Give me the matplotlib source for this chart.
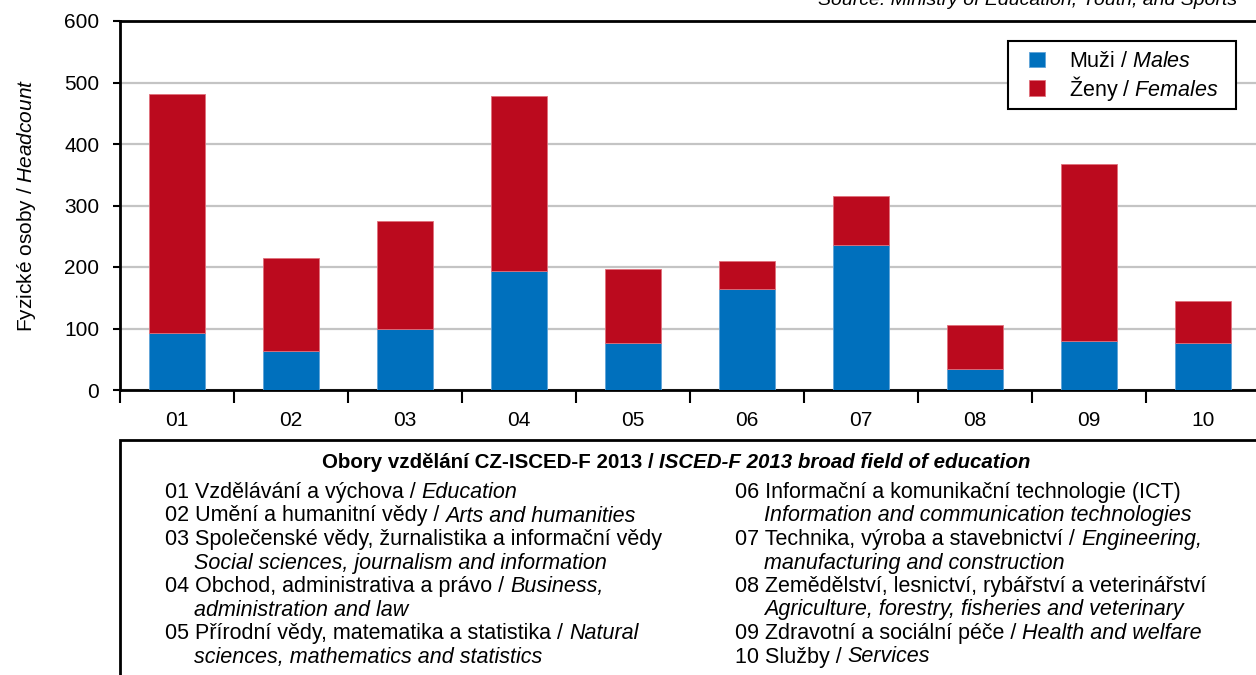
import matplotlib
matplotlib.use("Agg")
import matplotlib.pyplot as plt
from matplotlib.patches import Rectangle
import numpy as np

plt.rcParams['font.family'] = ['Liberation Sans', 'DejaVu Sans']
plt.rcParams['mathtext.fontset'] = 'custom'
plt.rcParams['mathtext.rm'] = 'Liberation Sans'
plt.rcParams['mathtext.it'] = 'Liberation Sans:italic'

# data
codes = ['01', '02', '03', '04', '05', '06', '07', '08', '09', '10']
males = [92, 63, 99, 193, 76, 164, 235, 34, 79, 76]
females = [389, 152, 175, 285, 120, 45, 81, 71, 289, 68]

# field names: (code, Czech part, English part, wrap English to next line)
fields_left = [
    ('01', 'Vzdělávání a výchova / ', 'Education', False),
    ('02', 'Umění a humanitní vědy / ', 'Arts and humanities', False),
    ('03', 'Společenské vědy, žurnalistika a informační vědy', 'Social sciences, journalism and information', True),
    ('04', 'Obchod, administrativa a právo / ', 'Business,|administration and law', True),
    ('05', 'Přírodní vědy, matematika a statistika / ', 'Natural|sciences, mathematics and statistics', True),
]
fields_right = [
    ('06', 'Informační a komunikační technologie (ICT)', 'Information and communication technologies', True),
    ('07', 'Technika, výroba a stavebnictví / ', 'Engineering,|manufacturing and construction', True),
    ('08', 'Zemědělství, lesnictví, rybářství a veterinářství', 'Agriculture, forestry, fisheries and veterinary', True),
    ('09', 'Zdravotní a sociální péče / ', 'Health and welfare', False),
    ('10', 'Služby / ', 'Services', False),
]

BLUE = '#0070BD'
RED = '#BB0A1E'

W, H = 1256, 675
fig = plt.figure(figsize=(W / 100, H / 100), dpi=100)
renderer = fig.canvas.get_renderer()

ax = fig.add_axes([120 / W, 285 / H, 1140 / W, 369 / H])
x = np.arange(len(codes))
ax.bar(x, males, width=0.49, color=BLUE, edgecolor='#5fa3d8', linewidth=0.6, zorder=3,
       label=r'Muži / $\mathit{Males}$')
ax.bar(x, females, width=0.49, bottom=males, color=RED, edgecolor='#e0707c', linewidth=0.6, zorder=3,
       label=r'Ženy / $\mathit{Females}$')

ax.set_xlim(-0.5, len(codes) - 0.5)
ax.set_ylim(0, 600)
ax.set_yticks(range(0, 601, 100))
ax.yaxis.grid(True, color='#c4c4c4', linewidth=1.6, zorder=0)
ax.set_axisbelow(True)
ax.set_xticks(x)
ax.set_xticklabels(codes)
ax.set_xticks(np.arange(-0.5, len(codes)), minor=True)
ax.tick_params(axis='x', which='major', length=0, labelsize=15, pad=15)
ax.tick_params(axis='x', which='minor', length=9, width=1.5, direction='out')
ax.tick_params(axis='y', length=5, width=1.5, labelsize=15, pad=10)
for s in ['left', 'bottom', 'top']:
    ax.spines[s].set_linewidth(2)
    ax.spines[s].set_color('black')
ax.spines['right'].set_visible(False)

ax.set_ylabel('Fyzické osoby / $\\mathit{Headcount}$', fontsize=15, labelpad=19)

# legend: white box drawn separately so the padding can differ per side
ax.add_patch(Rectangle((1008 / W, 1 - 109 / H), 228 / W, 68 / H, transform=fig.transFigure,
                       facecolor='white', edgecolor='black', linewidth=1.5, zorder=4, clip_on=False))
leg = ax.legend(loc='upper left', bbox_to_anchor=(1029 / W, 1 - 51 / H), bbox_transform=fig.transFigure,
                borderaxespad=0, borderpad=0, frameon=False, fontsize=15.5, handlelength=0.75,
                handleheight=0.75, handletextpad=1.1, labelspacing=0.08)
leg.set_zorder(5)

fig.text(1237 / W, 1 - 5 / H, 'Source: Ministry of Education, Youth, and Sports', style='italic',
         fontsize=14, ha='right', va='baseline')

# frame for the field-of-education key
fig.add_artist(Rectangle((120 / W, -0.1), 1.0, (675 - 440) / H + 0.1, transform=fig.transFigure,
                         fill=False, linewidth=2, edgecolor='black', clip_on=False))


def put(px, py, parts, size=15.5, center=False):
    # draws consecutive text pieces of differing style on one baseline (pixel coords from top-left)
    arts = []
    cur = px
    for s, style, weight in parts:
        t = fig.text(cur / W, 1 - py / H, s, fontsize=size, style=style, weight=weight, va='baseline')
        cur += t.get_window_extent(renderer).width
        arts.append(t)
    if center:
        shift = (cur - px) / 2
        for t in arts:
            xx, yy = t.get_position()
            t.set_position((xx - shift / W, yy))


put(676, 468, [('Obory vzdělání CZ-ISCED-F 2013 / ', 'normal', 'bold'),
               ('ISCED-F 2013 broad field of education', 'italic', 'bold')], size=14.8, center=True)

step = 23.5


def column(items, px, py):
    line = 0
    for code, cz, en, wrap in items:
        y = py + line * step
        if wrap and '|' in en:
            first, second = en.split('|')
            put(px, y, [(code + ' ' + cz, 'normal', 'normal'), (first, 'italic', 'normal')])
            put(px + 29, y + step, [(second, 'italic', 'normal')])
            line += 2
        elif wrap:
            put(px, y, [(code + ' ' + cz, 'normal', 'normal')])
            put(px + 29, y + step, [(en, 'italic', 'normal')])
            line += 2
        else:
            put(px, y, [(code + ' ' + cz, 'normal', 'normal'), (en, 'italic', 'normal')])
            line += 1


column(fields_left, 165, 498)
column(fields_right, 735, 498)

fig.savefig('out.png', dpi=100)
